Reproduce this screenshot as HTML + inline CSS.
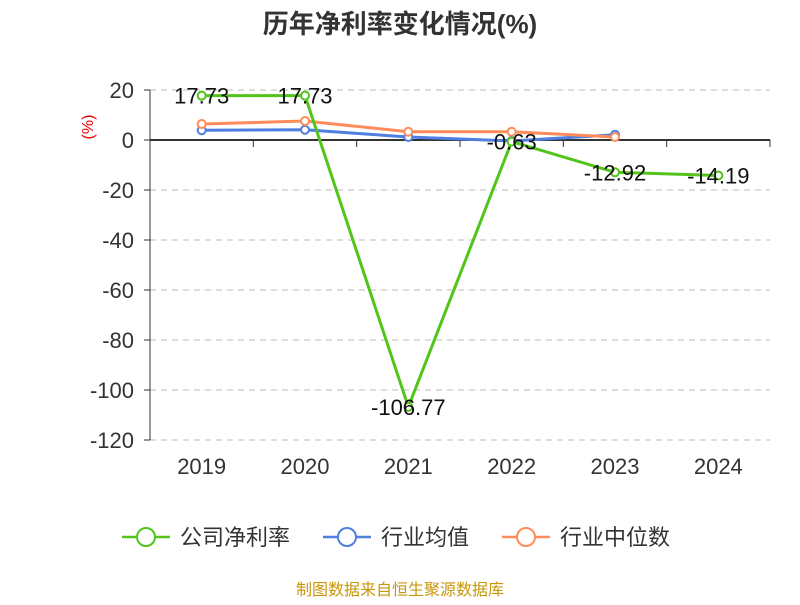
<!DOCTYPE html>
<html><head><meta charset="utf-8"><style>
body{margin:0;background:#fff;font-family:"Liberation Sans","Noto Sans CJK SC",sans-serif}
</style></head><body>
<svg id="chart" width="800" height="600" xmlns="http://www.w3.org/2000/svg" font-family="Liberation Sans, Noto Sans CJK SC, sans-serif">
<text x="400" y="33" text-anchor="middle" font-size="26" font-weight="bold" fill="#333">历年净利率变化情况(%)</text>
<text transform="translate(93,127) rotate(-90)" text-anchor="middle" font-size="16" fill="#e00">(%)</text>
<g id="grid"></g><g id="axes"></g><g id="series"></g>
<g font-size="22" fill="#333">
<g><line x1="122" y1="537" x2="170" y2="537" stroke="#52c41a" stroke-width="2.5"/><circle cx="146" cy="537" r="9" fill="#fff" stroke="#52c41a" stroke-width="2"/><text x="180" y="545">公司净利率</text></g>
<g><line x1="323" y1="537" x2="371" y2="537" stroke="#4f7fe0" stroke-width="2.5"/><circle cx="347" cy="537" r="9" fill="#fff" stroke="#4f7fe0" stroke-width="2"/><text x="381" y="545">行业均值</text></g>
<g><line x1="502" y1="537" x2="550" y2="537" stroke="#ff8c5a" stroke-width="2.5"/><circle cx="526" cy="537" r="9" fill="#fff" stroke="#ff8c5a" stroke-width="2"/><text x="560" y="545">行业中位数</text></g>
</g>
<text x="400" y="595" text-anchor="middle" font-size="16" fill="#c8960c">制图数据来自恒生聚源数据库</text>
</svg>
<script>
const categories=["2019","2020","2021","2022","2023","2024"];
const companyValues=[17.73,17.73,-106.77,-0.63,-12.92,-14.19];
const avgValues=[3.9,4.1,1.2,-0.4,2.1,null];
const medianValues=[6.4,7.6,3.3,3.3,1.2,null];
const yTicks=[20,0,-20,-40,-60,-80,-100,-120];
const companyLabels=["17.73","17.73","-106.77","-0.63","-12.92","-14.19"];
const NS="http://www.w3.org/2000/svg";
const x0=150,x1=770,yTop=90,yBot=440,vMax=20,vMin=-120;
const bw=(x1-x0)/categories.length;
const xs=i=>x0+bw*(i+0.5);
const ys=v=>yTop+(vMax-v)/(vMax-vMin)*(yBot-yTop);
function mk(tag,attrs,parent){const e=document.createElementNS(NS,tag);for(const k in attrs)e.setAttribute(k,attrs[k]);parent.appendChild(e);return e;}
const grid=document.getElementById('grid'),axes=document.getElementById('axes'),ser=document.getElementById('series');
yTicks.forEach(t=>{
 if(t!==0){const l=mk('line',{x1:x0,x2:x1,y1:ys(t),y2:ys(t),stroke:'#bbb','stroke-dasharray':'6,5'},grid);
 
 }
 const tx=mk('text',{x:x0-16,y:ys(t)+8,'text-anchor':'end','font-size':'22',fill:'#333'},axes);tx.textContent=t;
 
 
 mk('line',{x1:x0-6,x2:x0,y1:ys(t),y2:ys(t),stroke:'#333'},axes);
});
const ya=mk('line',{x1:x0,x2:x0,y1:yTop,y2:yBot,stroke:'#333'},axes);


const xa=mk('line',{x1:x0,x2:x1,y1:ys(0),y2:ys(0),stroke:'#333','stroke-width':2},axes);


categories.forEach((c,i)=>{
 mk('line',{x1:x0+bw*i,x2:x0+bw*i,y1:ys(0),y2:ys(0)+7,stroke:'#333'},axes);
 const t=mk('text',{x:xs(i),y:474,'text-anchor':'middle','font-size':'22',fill:'#333'},axes);t.textContent=c;
 
 
});
mk('line',{x1:x1,x2:x1,y1:ys(0),y2:ys(0)+7,stroke:'#333'},axes);
function series(vals,color,name){
 const g=mk('g',{},ser);
 
 
 const pts=vals.map((v,i)=>v==null?null:[xs(i),ys(v)]).filter(p=>p);
 mk('polyline',{points:pts.map(p=>p.join(',')).join(' '),fill:'none',stroke:color,'stroke-width':3},g);
 pts.forEach(p=>{const c=mk('circle',{cx:p[0],cy:p[1],r:4,fill:'#fff',stroke:color,'stroke-width':2},g);
 
 });
 return g;
}
series(avgValues,'#4f7fe0','industry-avg-line');
series(medianValues,'#ff8c5a','industry-median-line');
const cg=series(companyValues,'#52c41a','company-line');
companyValues.forEach((v,i)=>{
 const t=mk('text',{x:xs(i),y:ys(v)+8,'text-anchor':'middle','font-size':'22',fill:'#111'},cg);t.textContent=companyLabels[i];
 
 
});
</script>
</body></html>
